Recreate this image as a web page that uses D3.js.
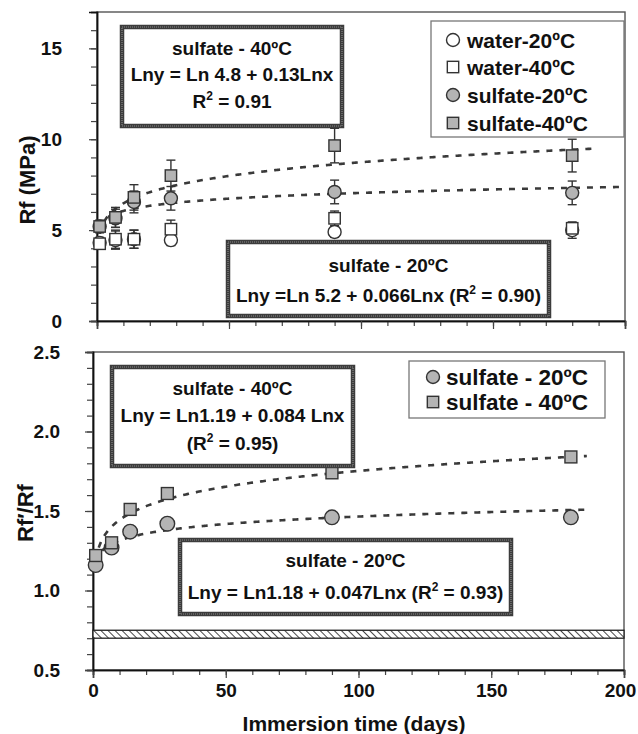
<!DOCTYPE html>
<html>
<head>
<meta charset="utf-8">
<title>Rf vs immersion time</title>
<script src="https://d3js.org/d3.v7.min.js"></script>
<style>
  body {margin: 0; background: white;}
  text {font-family: "Liberation Sans", Arial, sans-serif; font-weight: bold; fill: #111;}
</style>
</head>
<body>
<div id="chart"></div>
<script>
// immersion days
var days = [1, 7, 14, 28, 90, 180];

// top panel, Rf (MPa)
var water20 = [4.3, 4.45, 4.5, 4.45, 4.9, 5.0];
var water40 = [4.25, 4.5, 4.5, 5.05, 5.65, 5.1];
var sulfate20 = [5.2, 5.65, 6.55, 6.75, 7.1, 7.05];
var sulfate40 = [5.2, 5.7, 6.8, 8.0, 9.65, 9.1];
var water20Err = [0.3, 0.5, 0.5, 0.3, 0.3, 0.45];
var water40Err = [0.3, 0.5, 0.5, 0.5, 0.4, 0.3];
var sulfate20Err = [0.3, 0.5, 0.6, 0.65, 0.65, 0.65];
var sulfate40Err = [0.35, 0.55, 0.7, 0.85, 0.95, 0.9];

// bottom panel, Rf'/Rf
var ratio20 = [1.16, 1.27, 1.37, 1.42, 1.46, 1.46];
var ratio40 = [1.22, 1.30, 1.51, 1.61, 1.74, 1.84];

// fitted power laws y = a * x^b  (from the equations printed on the chart)
var fitTop = [{a: 5.2, b: 0.066, end: 200}, {a: 4.8, b: 0.13, end: 189}];
var fitBottom = [{a: 1.18, b: 0.047, end: 186}, {a: 1.19, b: 0.084, end: 186}];

// reference band in bottom panel
var band = [0.70, 0.75];

var xTicks = [0, 50, 100, 150, 200];
var topYTicks = [0, 5, 10, 15];
var bottomYTicks = [0.5, 1.0, 1.5, 2.0, 2.5];

var W = 638, H = 734;
var grey = "#b4b4b4", dark = "#333";

var svg = d3.select("#chart").append("svg")
    .attr("width", W).attr("height", H);

var defs = svg.append("defs");
var pat = defs.append("pattern")
    .attr("id", "hatch").attr("patternUnits", "userSpaceOnUse")
    .attr("width", 5).attr("height", 5)
    .attr("patternTransform", "rotate(-45)");
pat.append("rect").attr("width", 5).attr("height", 5).attr("fill", "white");
pat.append("line").attr("x1", 0).attr("y1", 0).attr("x2", 0).attr("y2", 5)
    .attr("stroke", "#333").attr("stroke-width", 1.8);

// ---- scales
var xTop = d3.scaleLinear().domain([0, 200]).range([97, 625]);
var yTop = d3.scaleLinear().domain([0, 17]).range([321, 12]);
var xBot = d3.scaleLinear().domain([0, 200]).range([93, 624]);
var yBot = d3.scaleLinear().domain([0.5, 2.5]).range([670, 352]);

function frame(x, y) {
    svg.append("rect")
        .attr("x", x.range()[0]).attr("y", y.range()[1])
        .attr("width", x.range()[1] - x.range()[0])
        .attr("height", y.range()[0] - y.range()[1])
        .attr("fill", "none").attr("stroke", "#555").attr("stroke-width", 1.4);
}

function axes(x, y, yTicks, yMinor, showX, yFmt, pad) {
    // minor ticks first
    var gx = svg.append("g").attr("transform", "translate(0," + y.range()[0] + ")");
    gx.call(d3.axisBottom(x).tickValues(d3.range(0, 201, 10)).tickSize(5).tickFormat(""));
    var gxm = gx.append("g").call(d3.axisBottom(x).tickValues(xTicks).tickSize(8).tickPadding(6)
        .tickFormat(showX ? d3.format("d") : ""));
    // last label sits at the window edge, nudge it in
    gxm.selectAll(".tick text").filter(function(d) { return d == 200; }).attr("dx", -4);
    var gy = svg.append("g").attr("transform", "translate(" + x.range()[0] + ",0)");
    gy.call(d3.axisLeft(y).tickValues(yMinor).tickSize(6).tickFormat(""));
    gy.append("g").call(d3.axisLeft(y).tickValues(yTicks).tickSize(8).tickPadding(pad)
        .tickFormat(yFmt));
    svg.selectAll(".domain").attr("stroke", "#111").attr("stroke-width", 1.5);
    svg.selectAll(".tick line").attr("stroke", "#444").attr("stroke-width", 1.2);
    svg.selectAll(".tick text").style("font-size", "19px").attr("fill", "#111")
        .style("font-family", "Liberation Sans, Arial").style("font-weight", "bold");
}

frame(xTop, yTop);
frame(xBot, yBot);
axes(xTop, yTop, topYTicks, d3.range(0, 17.01, 1), false, d3.format("d"), 27);
axes(xBot, yBot, bottomYTicks, d3.range(0.5, 2.51, 0.1), true, d3.format(".1f"), 25);

// ---- hatched band
svg.append("rect")
    .attr("x", xBot(0)).attr("y", yBot(band[1]))
    .attr("width", xBot(200) - xBot(0)).attr("height", yBot(band[0]) - yBot(band[1]))
    .attr("fill", "url(#hatch)").attr("stroke", "#222").attr("stroke-width", 1.3);

// ---- fitted curves
function fitLine(x, y, f) {
    var pts = d3.range(1, f.end + 0.01, 0.5).map(function(d) { return [d, f.a * Math.pow(d, f.b)]; });
    svg.append("path")
        .datum(pts)
        .attr("d", d3.line().x(function(d) { return x(d[0]); }).y(function(d) { return y(d[1]); }))
        .attr("fill", "none").attr("stroke", "#3a3a3a")
        .attr("stroke-width", 2.6).attr("stroke-dasharray", "6,7");
}
fitTop.forEach(function(f) { fitLine(xTop, yTop, f); });
fitBottom.forEach(function(f) { fitLine(xBot, yBot, f); });

// ---- error bars + markers
function errorBars(x, y, vals, errs) {
    var g = svg.append("g").attr("stroke", "#333").attr("stroke-width", 1.4);
    days.forEach(function(d, i) {
        var cx = x(d), top = y(vals[i] + errs[i]), bot = y(vals[i] - errs[i]);
        g.append("line").attr("x1", cx).attr("x2", cx).attr("y1", top).attr("y2", bot);
        g.append("line").attr("x1", cx - 4.5).attr("x2", cx + 4.5).attr("y1", top).attr("y2", top);
        g.append("line").attr("x1", cx - 4.5).attr("x2", cx + 4.5).attr("y1", bot).attr("y2", bot);
    });
}

function marker(g, shape, fill, cx, cy, r) {
    if (shape == "circle") {
        g.append("circle").attr("cx", cx).attr("cy", cy).attr("r", r)
            .attr("fill", fill).attr("stroke", dark).attr("stroke-width", 1.4);
    } else {
        var s = r * 1.75;
        g.append("rect").attr("x", cx - s / 2).attr("y", cy - s / 2).attr("width", s).attr("height", s)
            .attr("fill", fill).attr("stroke", dark).attr("stroke-width", 1.4);
    }
}

function series(x, y, vals, shape, fill, r) {
    var g = svg.append("g");
    days.forEach(function(d, i) { marker(g, shape, fill, x(d), y(vals[i]), r); });
}

var topSeries = [
    {name: "water-20ºC", vals: water20, err: water20Err, shape: "circle", fill: "white"},
    {name: "water-40ºC", vals: water40, err: water40Err, shape: "square", fill: "white"},
    {name: "sulfate-20ºC", vals: sulfate20, err: sulfate20Err, shape: "circle", fill: grey},
    {name: "sulfate-40ºC", vals: sulfate40, err: sulfate40Err, shape: "square", fill: grey}
];
topSeries.forEach(function(s) { errorBars(xTop, yTop, s.vals, s.err); });
topSeries.forEach(function(s) { series(xTop, yTop, s.vals, s.shape, s.fill, 6.5); });

var botSeries = [
    {name: "sulfate - 20ºC", vals: ratio20, shape: "circle", fill: grey},
    {name: "sulfate - 40ºC", vals: ratio40, shape: "square", fill: grey}
];
botSeries.forEach(function(s) { series(xBot, yBot, s.vals, s.shape, s.fill, s.shape == "circle" ? 7.3 : 6.8); });

// ---- equation boxes
function eqBox(x0, y0, x1, y1, lines) {
    var g = svg.append("g");
    g.append("rect").attr("x", x0).attr("y", y0).attr("width", x1 - x0).attr("height", y1 - y0)
        .attr("fill", "white").attr("stroke", "#3c3c3c").attr("stroke-width", 4.5);
    g.append("rect").attr("x", x0).attr("y", y0).attr("width", x1 - x0).attr("height", y1 - y0)
        .attr("fill", "none").attr("stroke", "#888").attr("stroke-width", 1.2)
        .attr("stroke-dasharray", "1,1");
    lines.forEach(function(l) {
        var t = g.append("text").attr("x", (x0 + x1) / 2).attr("y", l.y)
            .attr("text-anchor", "middle").style("font-size", "19px");
        // "^2" marks the superscript
        var parts = l.t.split("^2");
        t.append("tspan").text(parts[0]);
        if (parts.length > 1) {
            t.append("tspan").attr("dy", -8).style("font-size", "12px").text("2");
            t.append("tspan").attr("dy", 8).text(parts[1]);
        }
    });
}

eqBox(122, 27, 342, 126, [
    {t: "sulfate - 40ºC", y: 55},
    {t: "Lny = Ln 4.8 + 0.13Lnx", y: 81},
    {t: "R^2 = 0.91", y: 108}
]);
eqBox(228, 242, 549, 316, [
    {t: "sulfate - 20ºC", y: 272},
    {t: "Lny =Ln 5.2 + 0.066Lnx (R^2 = 0.90)", y: 302}
]);
eqBox(112, 367, 353, 466, [
    {t: "sulfate - 40ºC", y: 395},
    {t: "Lny = Ln1.19 + 0.084 Lnx", y: 422},
    {t: "(R^2 = 0.95)", y: 450}
]);
eqBox(180, 540, 511, 614, [
    {t: "sulfate - 20ºC", y: 567},
    {t: "Lny = Ln1.18 + 0.047Lnx (R^2 = 0.93)", y: 599}
]);

// ---- legends
function legend(x0, y0, x1, y1, items, rows, symX, txtX, fs) {
    var g = svg.append("g");
    g.append("rect").attr("x", x0).attr("y", y0).attr("width", x1 - x0).attr("height", y1 - y0)
        .attr("fill", "white").attr("stroke", "#777").attr("stroke-width", 1.3);
    items.forEach(function(s, i) {
        marker(g, s.shape, s.fill, symX, rows[i], 6.5);
        g.append("text").attr("x", txtX).attr("y", rows[i] + fs * 0.36)
            .style("font-size", fs + "px").text(s.name);
    });
}
legend(431, 21, 624, 137, topSeries, [40, 67, 95, 123], 453, 467, 21);
legend(409, 361, 605, 418, botSeries, [377, 402], 433, 446, 22.5);

// ---- axis titles
svg.append("text").attr("transform", "translate(35,180) rotate(-90)")
    .attr("text-anchor", "middle").style("font-size", "22px").text("Rf (MPa)");
svg.append("text").attr("transform", "translate(33,513) rotate(-90)")
    .attr("text-anchor", "middle").style("font-size", "22px").text("Rf′/Rf");
svg.append("text").attr("x", 354).attr("y", 731)
    .attr("text-anchor", "middle").style("font-size", "21px").text("Immersion time (days)");
</script>
</body>
</html>
